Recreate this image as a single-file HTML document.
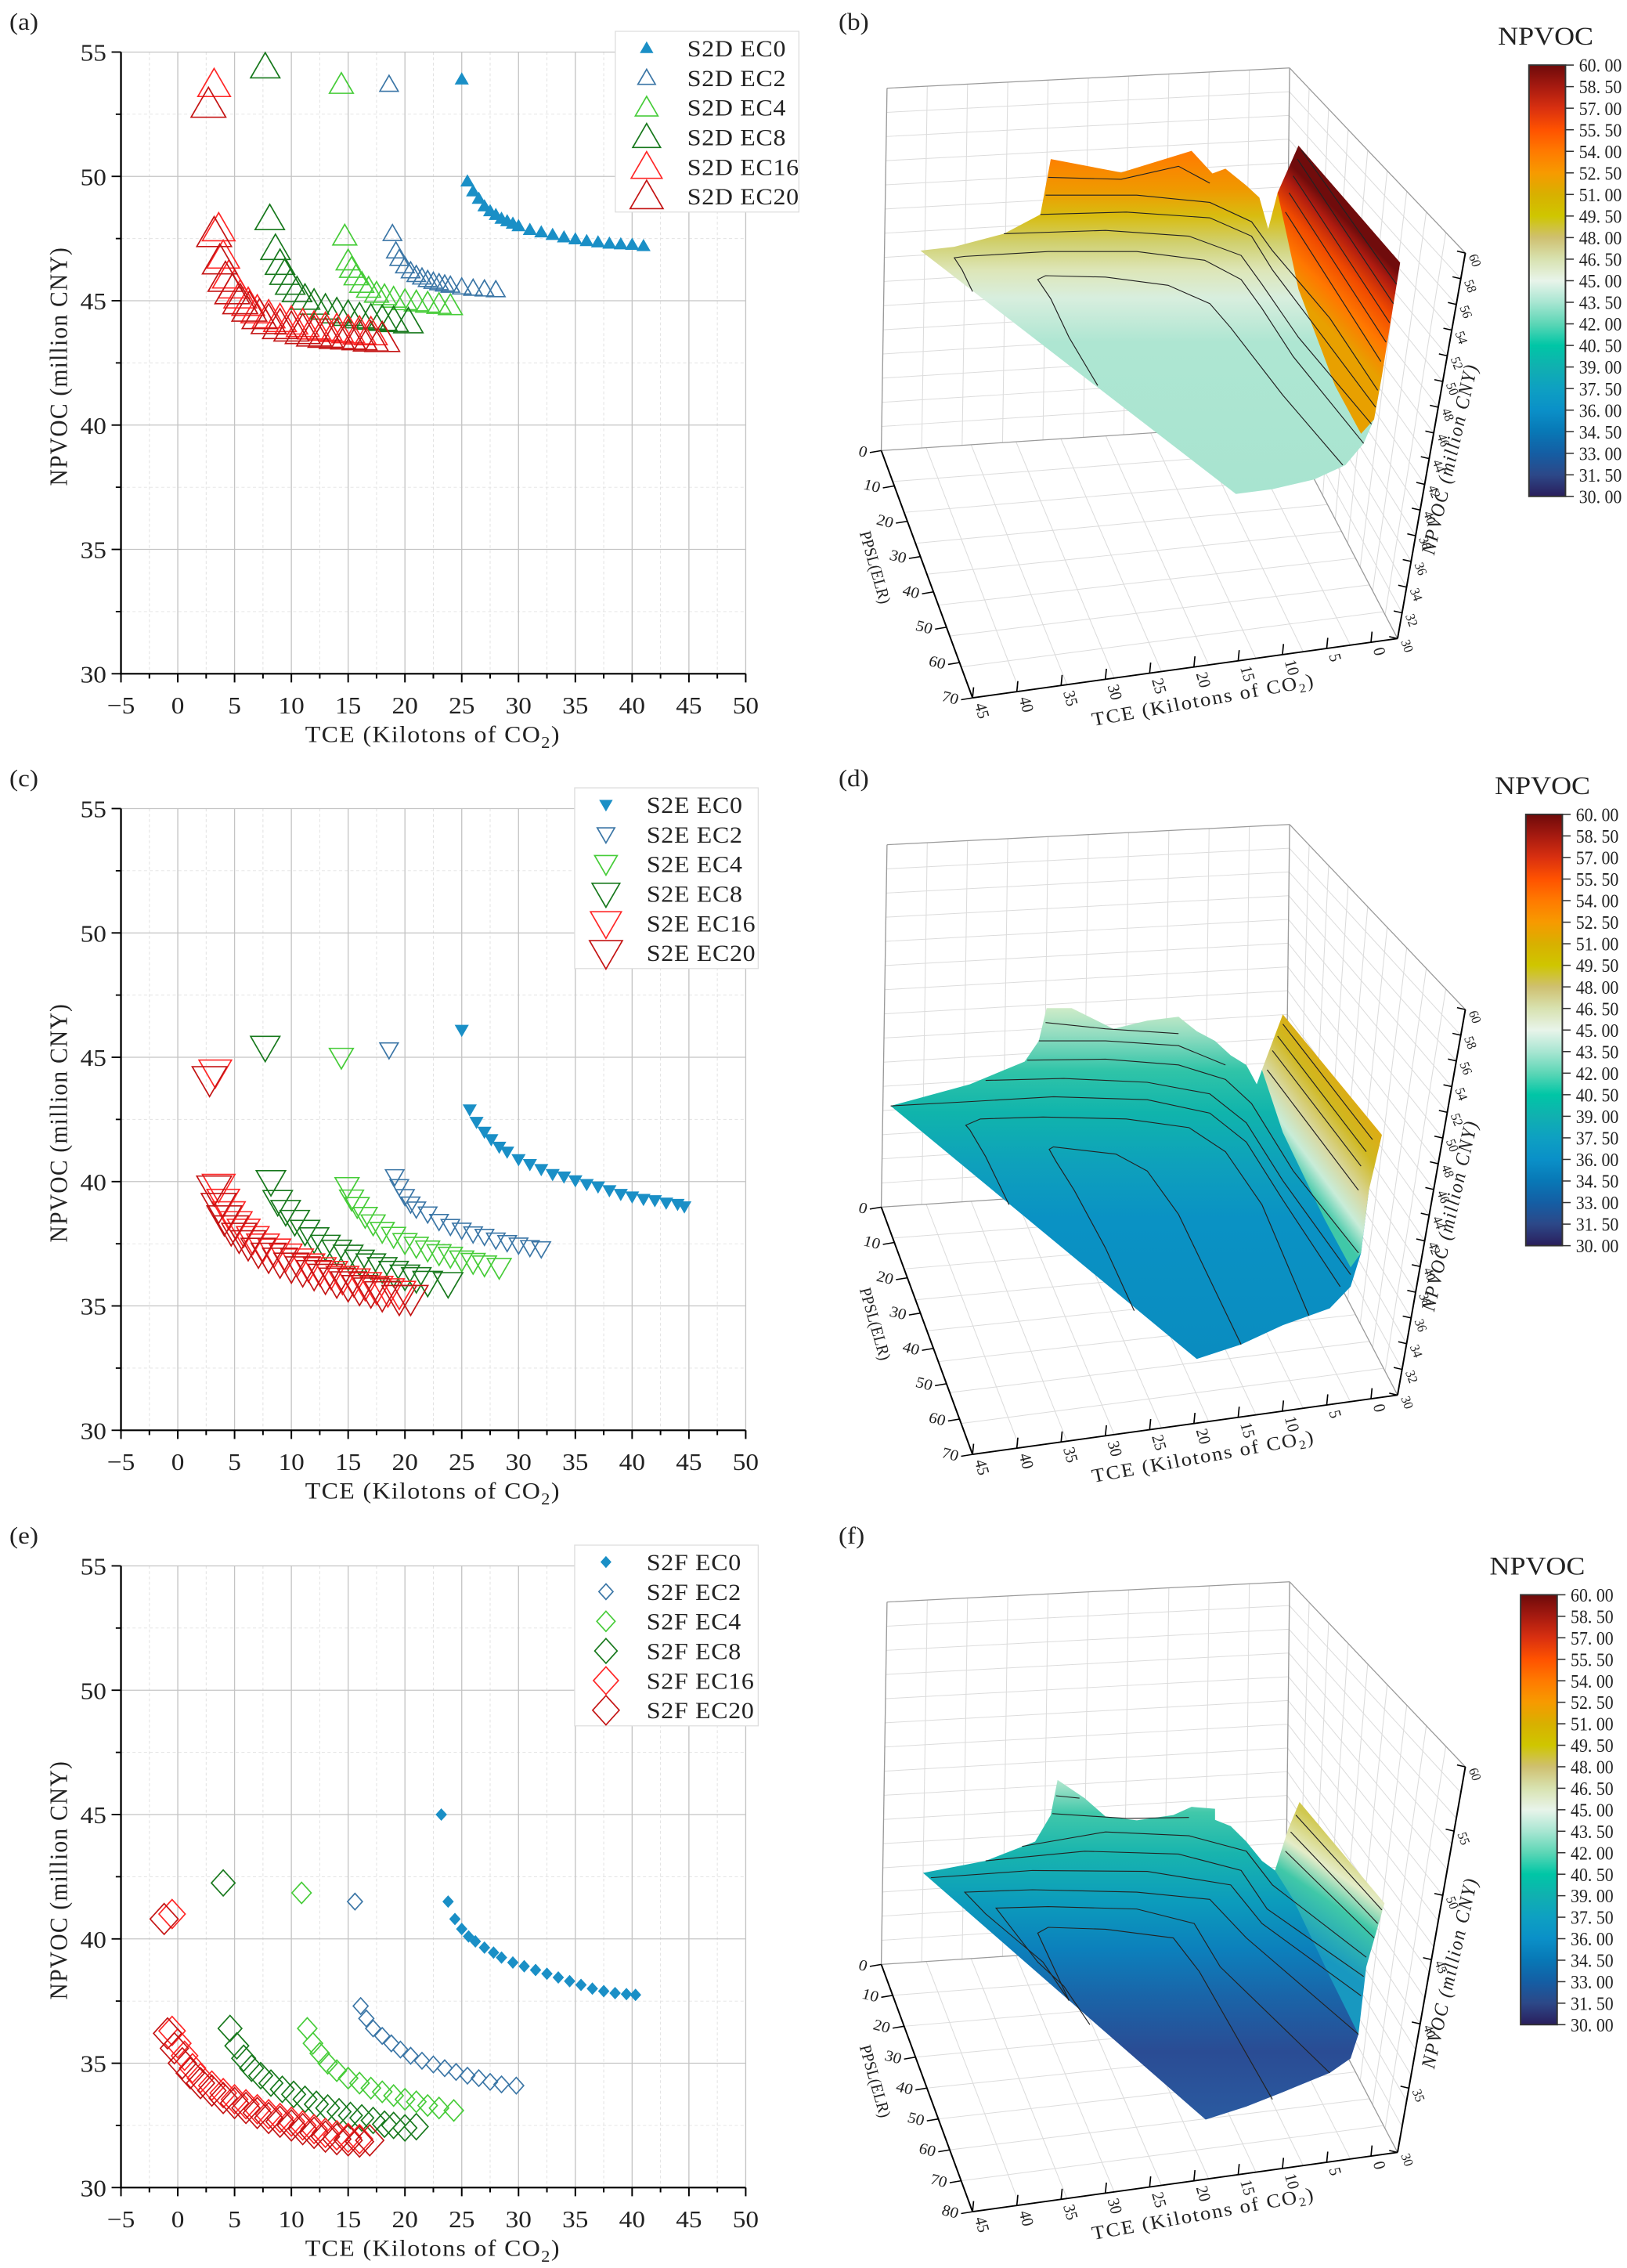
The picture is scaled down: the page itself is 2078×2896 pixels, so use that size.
<!DOCTYPE html>
<html><head><meta charset="utf-8">
<style>
html,body{margin:0;padding:0;background:#fff;}
body{width:2078px;height:2896px;position:relative;overflow:hidden;}
svg.p{position:absolute;width:1039px;height:960px;}
text{font-family:"Liberation Serif","Noto Serif CJK SC",serif;fill:#222;}
</style></head><body>
<svg class="p" id="pa" style="left:0;top:0" viewBox="0 0 1560 1560" preserveAspectRatio="none"></svg>
<svg class="p" id="pb" style="left:1039px;top:0" viewBox="0 0 1560 1560" preserveAspectRatio="none"></svg>
<svg class="p" id="pc" style="left:0;top:966px" viewBox="0 0 1560 1560" preserveAspectRatio="none"></svg>
<svg class="p" id="pd" style="left:1039px;top:966px" viewBox="0 0 1560 1560" preserveAspectRatio="none"></svg>
<svg class="p" id="pe" style="left:0;top:1933px" viewBox="0 0 1560 1560" preserveAspectRatio="none"></svg>
<svg class="p" id="pf" style="left:1039px;top:1933px" viewBox="0 0 1560 1560" preserveAspectRatio="none"></svg>
<script>
// ---------- scatter data ----------
const xTicks=[-5,0,5,10,15,20,25,30,35,40,45,50];
const yTicks=[30,35,40,45,50,55];
const seriesLabels=["EC0","EC2","EC4","EC8","EC16","EC20"];
// (a) S2D
const aEC0x=[25,25.5,26,26.5,27,27.5,28,28.5,29,29.5,30,31,32,33,34,35,36,37,38,39,40,41];
const aEC0y=[53.9,49.8,49.4,49.1,48.8,48.6,48.45,48.3,48.2,48.1,48.0,47.85,47.75,47.65,47.55,47.47,47.4,47.35,47.3,47.27,47.25,47.2];
const aEC2x=[18.6,18.9,19.2,19.5,20,20.5,21,21.5,22,22.5,23,23.5,24,25,26,27,28];
const aEC2y=[53.7,47.7,47.0,46.7,46.4,46.2,46.05,45.95,45.85,45.78,45.72,45.67,45.62,45.55,45.5,45.47,45.44];
const aEC4x=[14.4,14.7,15,15.3,15.7,16.2,16.8,17.5,18.2,19,20,21,22,23,24];
const aEC4y=[53.7,47.6,46.6,46.3,46.0,45.7,45.5,45.3,45.2,45.1,45.0,44.95,44.9,44.85,44.8];
const aEC8x=[7.7,8.1,8.6,9,9.4,9.9,10.5,11.2,12,13,14,15,16,17,18,19,20.3];
const aEC8y=[54.4,48.3,47.1,46.5,46.1,45.7,45.4,45.1,44.9,44.7,44.55,44.45,44.35,44.3,44.25,44.2,44.15];
const aEC16x=[3.2,3.6,4.0,4.5,5.0,5.5,6.2,7,8,9,10,11,12,13,14,15,16,17];
const aEC16y=[53.7,47.9,46.8,46.0,45.6,45.2,44.9,44.6,44.4,44.25,44.15,44.05,43.95,43.9,43.85,43.8,43.75,43.72];
const aEC20x=[2.7,3.2,3.7,4.2,4.8,5.5,6.3,7.2,8,9,10,11,12,13,14,15,16,17,18];
const aEC20y=[52.9,47.7,46.6,45.9,45.4,45.0,44.7,44.4,44.2,44.0,43.9,43.8,43.7,43.65,43.6,43.58,43.55,43.5,43.48];
// (c) S2E
const cEC0x=[25,25.7,26.3,27,27.6,28.3,29,30,31,32,33,34,35,36,37,38,39,40,41,42,43,44,44.6];
const cEC0y=[46.1,42.9,42.4,42.0,41.7,41.4,41.2,40.9,40.7,40.5,40.3,40.2,40.05,39.9,39.8,39.65,39.5,39.4,39.3,39.25,39.15,39.1,39.0];
const cEC2x=[18.6,19.1,19.5,20,20.5,21,22,23,24,25,26,27,28,29,30,31,32];
const cEC2y=[45.3,40.2,39.8,39.4,39.1,38.9,38.7,38.4,38.2,38.05,37.9,37.8,37.65,37.55,37.45,37.35,37.3];
const cEC4x=[14.4,14.9,15.3,15.8,16.5,17.2,18,19,20,21,22,23,24,25,26,27,28.3];
const cEC4y=[45.0,39.8,39.3,39.0,38.6,38.3,38.0,37.8,37.55,37.4,37.25,37.1,37.0,36.85,36.75,36.65,36.55];
const cEC8x=[7.7,8.2,8.8,9.5,10.3,11.2,12,13,14,15,16,17,18,19,20,21,22,23.8];
const cEC8y=[45.4,40.0,39.2,38.8,38.4,38.0,37.7,37.4,37.2,37.0,36.8,36.65,36.5,36.35,36.2,36.1,35.95,35.9];
const cEC16x=[3.3,3.6,4.0,4.5,5.1,5.8,6.6,7.5,8.5,9.5,10.5,11.5,12.5,13.5,14.5,15.5,16.5,17.5,18.5,19.5];
const cEC16y=[44.4,39.8,39.2,38.7,38.3,38.0,37.7,37.4,37.2,37.0,36.8,36.6,36.45,36.3,36.1,36.0,35.85,35.7,35.6,35.5];
const cEC20x=[2.8,3.2,3.6,4.1,4.7,5.4,6.2,7.1,8,9,10,11,12,13,14,15,16,17,18,19.5,20.5];
const cEC20y=[44.1,39.7,39.0,38.5,38.1,37.8,37.5,37.2,37.0,36.8,36.6,36.45,36.3,36.15,36.0,35.85,35.7,35.6,35.45,35.3,35.3];
// (e) S2F
const eEC0x=[23.2,23.8,24.4,25,25.6,26.2,27,27.8,28.5,29.5,30.5,31.5,32.5,33.5,34.5,35.5,36.5,37.5,38.5,39.5,40.3];
const eEC0y=[45.0,41.5,40.8,40.4,40.1,39.9,39.65,39.45,39.25,39.05,38.9,38.75,38.6,38.45,38.3,38.15,38.0,37.9,37.82,37.78,37.75];
const eEC2x=[15.6,16.1,16.6,17.2,18,18.8,19.6,20.5,21.5,22.5,23.5,24.5,25.5,26.5,27.5,28.5,29.8];
const eEC2y=[41.5,37.3,36.8,36.4,36.1,35.8,35.55,35.3,35.1,34.95,34.8,34.65,34.5,34.4,34.25,34.15,34.1];
const eEC4x=[10.9,11.4,11.9,12.5,13.2,14,15,16,17,18,19,20,21,22,23,24.3];
const eEC4y=[41.85,36.4,35.8,35.4,35.0,34.7,34.4,34.2,34.0,33.85,33.7,33.55,33.45,33.3,33.2,33.1];
const eEC8x=[4.0,4.6,5.2,5.8,6.5,7.3,8.2,9.2,10.2,11.2,12.2,13.2,14.2,15.2,16.2,17.2,18.2,19,20,21];
const eEC8y=[42.25,36.4,35.7,35.2,34.8,34.5,34.2,33.95,33.75,33.55,33.35,33.2,33.05,32.9,32.8,32.7,32.55,32.5,32.4,32.45];
const eEC16x=[-0.5,-0.5,0,0.6,1.3,2,3,4,5,6,7,8,9,10,11,12,13,14,15,16];
const eEC16y=[41.0,36.3,35.8,35.3,34.8,34.4,34.1,33.8,33.55,33.35,33.15,32.95,32.8,32.65,32.5,32.35,32.2,32.1,32.0,31.95];
const eEC20x=[-1.2,-0.9,-0.3,0.4,1.1,2,3,4,5,6,7,8,9,10,11,12,13,14,15,16,16.9];
const eEC20y=[40.8,36.2,35.6,35.0,34.6,34.2,33.9,33.6,33.4,33.2,33.0,32.8,32.65,32.5,32.35,32.2,32.05,31.95,31.9,31.85,31.9];

// ---------- colorbar ----------
const cbValues=[60,58.5,57,55.5,54,52.5,51,49.5,48,46.5,45,43.5,42,40.5,39,37.5,36,34.5,33,31.5,30];
const cbColors=["#6e0a0a","#a61a10","#d93010","#ff5200","#ff7a00","#f79a00","#d8b000","#cfc600","#cfc070","#d8e2b0","#e8f4ea","#a8e6d2","#5cd6b6","#00c6a6","#10b0b0","#0ea0c2","#0a90c8","#0878b6","#145ea4","#2c4888","#2a1e5c"];

const NS="http://www.w3.org/2000/svg";
function mk(parent,tag,attrs,name,inter){
  const el=document.createElementNS(NS,tag);
  for(const k in attrs) el.setAttribute(k,attrs[k]);
  if(name){
    
    
  }
  parent.appendChild(el);return el;
}
function txt(parent,x,y,s,size,anchor,name,extra){
  const t=mk(parent,'text',Object.assign({x:x,y:y,'font-size':size,'text-anchor':anchor||'start'},extra||{}));
  
  
  t.textContent=s;return t;
}
const colors=["#1a8fc6","#3b76a6","#46cc38","#17781c","#ff2626","#c41414"];
const sizes=[22,34,44,54,60,64];
const X0=232,X1=1430,Y0=1398,Y1=108;
function sx(v){return X0+(v+5)/55*(X1-X0);}
function sy(v){return Y0-(v-30)/25*(Y0-Y1);}
function marker(g,shape,cx,cy,s,col,filled){
  let pts;
  if(shape==='up') pts=[[cx,cy-s*0.55],[cx-s*0.52,cy+s*0.42],[cx+s*0.52,cy+s*0.42]];
  else if(shape==='down') pts=[[cx,cy+s*0.55],[cx-s*0.52,cy-s*0.42],[cx+s*0.52,cy-s*0.42]];
  else pts=[[cx,cy-s*0.5],[cx+s*0.42,cy],[cx,cy+s*0.5],[cx-s*0.42,cy]];
  const p=mk(g,'polygon',{points:pts.map(q=>q.join(',')).join(' '),fill:filled?col:'none',stroke:col,'stroke-width':2.6});
  
  
}
function scatter(id,letter,prefix,shape,xs,ys,legX){
  const s=document.getElementById(id);
  txt(s,18,62,'('+letter+')',50,'start','panel-label');
  const grid=mk(s,'g',{},'grid',false);
  for(let v=-2.5;v<50;v+=5) mk(grid,'line',{x1:sx(v),y1:Y1,x2:sx(v),y2:Y0,stroke:'#e2e2e2','stroke-width':1.5,'stroke-dasharray':'6,5'});
  for(let v=32.5;v<55;v+=5) mk(grid,'line',{x1:X0,y1:sy(v),x2:X1,y2:sy(v),stroke:'#e2e2e2','stroke-width':1.5,'stroke-dasharray':'6,5'});
  xTicks.forEach(v=>{ if(v>-5) mk(grid,'line',{x1:sx(v),y1:Y1,x2:sx(v),y2:Y0,stroke:'#c4c4c4','stroke-width':2});});
  yTicks.forEach(v=>{ if(v>30) mk(grid,'line',{x1:X0,y1:sy(v),x2:X1,y2:sy(v),stroke:'#c4c4c4','stroke-width':2});});
  const ax=mk(s,'g',{},'axes',false);
  mk(ax,'line',{x1:X0,y1:Y1,x2:X0,y2:Y0+2,stroke:'#000','stroke-width':3.5},'y-axis',false);
  mk(ax,'line',{x1:X0-2,y1:Y0,x2:X1,y2:Y0,stroke:'#000','stroke-width':3.5},'x-axis',false);
  xTicks.forEach(v=>{mk(ax,'line',{x1:sx(v),y1:Y0,x2:sx(v),y2:Y0+18,stroke:'#000','stroke-width':3});
    txt(ax,sx(v),Y0+82,(v<0?'\u2212':'')+Math.abs(v),50,'middle','x-tick-label');});
  for(let v=-2.5;v<50;v+=5) mk(ax,'line',{x1:sx(v),y1:Y0,x2:sx(v),y2:Y0+10,stroke:'#000','stroke-width':3});
  yTicks.forEach(v=>{mk(ax,'line',{x1:X0-18,y1:sy(v),x2:X0,y2:sy(v),stroke:'#000','stroke-width':3});
    txt(ax,X0-28,sy(v)+18,String(v),50,'end','y-tick-label');});
  for(let v=32.5;v<55;v+=5) mk(ax,'line',{x1:X0-10,y1:sy(v),x2:X0,y2:sy(v),stroke:'#000','stroke-width':3});
  const xt=txt(ax,830,1540,'TCE (Kilotons of CO',48,'middle','x-axis-title',{'letter-spacing':'2'});
  const sub=mk(xt,'tspan',{'font-size':34,dy:12});sub.textContent='2';
  const cl=mk(xt,'tspan',{dy:-12});cl.textContent=')';
  txt(ax,0,0,'NPVOC (million CNY)',48,'middle','y-axis-title',{transform:'translate(128,760) rotate(-90)','letter-spacing':'2'});
  xs.forEach((arr,i)=>{
    const g=mk(s,'g',{},'series-'+seriesLabels[i].toLowerCase(),false);
    const yy=ys[i];
    for(let j=arr.length-1;j>=0;j--) marker(g,shape,sx(arr[j]),sy(yy[j]),sizes[i],colors[i],i===0);
  });
  const lg=mk(s,'g',{},'legend',false);
  mk(lg,'rect',{x:legX,y:65,width:352,height:375,fill:'#fff',stroke:'#ddd','stroke-width':2});
  seriesLabels.forEach((l,i)=>{
    const yy=100+i*61.5;
    marker(lg,shape,legX+60,yy,sizes[i]*0.95,colors[i],i===0);
    txt(lg,legX+138,yy+17,prefix+' '+l,48,'start','legend-entry',{'letter-spacing':'1'});
  });
}
scatter('pa','a','S2D','up',[aEC0x,aEC2x,aEC4x,aEC8x,aEC16x,aEC20x],[aEC0y,aEC2y,aEC4y,aEC8y,aEC16y,aEC20y],1180);
scatter('pc','c','S2E','down',[cEC0x,cEC2x,cEC4x,cEC8x,cEC16x,cEC20x],[cEC0y,cEC2y,cEC4y,cEC8y,cEC16y,cEC20y],1102);
scatter('pe','e','S2F','diamond',[eEC0x,eEC2x,eEC4x,eEC8x,eEC16x,eEC20x],[eEC0y,eEC2y,eEC4y,eEC8y,eEC16y,eEC20y],1102);

// ---------- 3D surfaces ----------
const tceLabels=["45","40","35","30","25","20","15","10","5","0"];
const ppslB=["0","10","20","30","40","50","60","70"];
const ppslF=["0","10","20","30","40","50","60","70","80"];
const zLabelsBD=["60","58","56","54","52","50","48","46","44","42","40","38","36","34","32","30"];
const zLabelsF=["60","55","50","45","40","35","30"];
function lerp(a,b,t){return [a[0]+(b[0]-a[0])*t,a[1]+(b[1]-a[1])*t];}
function quadGrid(g,TL,TR,BR,BL,nu,nv){
  for(let i=1;i<nu;i++){const t=i/nu;const a=lerp(TL,TR,t),b=lerp(BL,BR,t);
    mk(g,'line',{x1:a[0],y1:a[1],x2:b[0],y2:b[1],stroke:'#dcdcdc','stroke-width':1.6});}
  for(let i=1;i<nv;i++){const t=i/nv;const a=lerp(TL,BL,t),b=lerp(TR,BR,t);
    mk(g,'line',{x1:a[0],y1:a[1],x2:b[0],y2:b[1],stroke:'#dcdcdc','stroke-width':1.6});}
}
function surface(id,letter,cfg){
  const s=document.getElementById(id);
  txt(s,48,62,'('+letter+')',50,'start','panel-label');
  const defs=mk(s,'defs',{});
  const BTL=[141,183],BTR=[913,141],BBR=[905,880],BBL=[130,935],RTR=[1250,525],RBR=[1120,1325],FBL=[305,1448];
  const box=mk(s,'g',{},'3d-box',false);
  quadGrid(box,BTL,BTR,BBR,BBL,10,15);
  quadGrid(box,BTR,RTR,RBR,BBR,9,15);
  quadGrid(box,BBL,BBR,RBR,FBL,9,8);
  [[BTL,BTR],[BTL,BBL],[BTR,RTR],[BTR,BBR],[BBL,BBR],[BBR,RBR]].forEach(p=>mk(box,'line',{x1:p[0][0],y1:p[0][1],x2:p[1][0],y2:p[1][1],stroke:'#9a9a9a','stroke-width':2}));
  // surface
  const bg=mk(defs,'linearGradient',{id:id+'g',gradientUnits:'userSpaceOnUse',x1:0,y1:cfg.gy[0],x2:0,y2:cfg.gy[1]});
  cfg.stops.forEach(st=>mk(bg,'stop',{offset:st[0],'stop-color':st[1]}));
  const sg=mk(s,'g',{},'surface',false);
  mk(sg,'polygon',{points:cfg.poly.map(p=>p.join(',')).join(' '),fill:'url(#'+id+'g)'},'surface-body',false);
  const lg=mk(defs,'linearGradient',{id:id+'r',gradientUnits:'userSpaceOnUse',x1:cfg.strip.g[0],y1:cfg.strip.g[1],x2:cfg.strip.g[2],y2:cfg.strip.g[3]});
  cfg.strip.stops.forEach(st=>mk(lg,'stop',{offset:st[0],'stop-color':st[1]}));
  mk(sg,'polygon',{points:cfg.strip.poly.map(p=>p.join(',')).join(' '),fill:'url(#'+id+'r)'},'surface-right-face',false);
  cfg.contours.forEach(c=>mk(sg,'polyline',{points:c.map(p=>p.join(',')).join(' '),fill:'none',stroke:'#222','stroke-width':1.8},'contour-line',false));
  // axes
  const ax=mk(s,'g',{},'3d-axes',false);
  mk(ax,'line',{x1:BBL[0],y1:BBL[1],x2:FBL[0],y2:FBL[1],stroke:'#000','stroke-width':3},'ppsl-axis',false);
  mk(ax,'line',{x1:FBL[0],y1:FBL[1],x2:RBR[0],y2:RBR[1],stroke:'#000','stroke-width':3},'tce-axis',false);
  mk(ax,'line',{x1:RTR[0],y1:RTR[1],x2:RBR[0],y2:RBR[1],stroke:'#000','stroke-width':3},'npvoc-axis',false);
  const pl=cfg.ppsl;
  pl.forEach((l,i)=>{const p=lerp(BBL,FBL,i/(pl.length-1));
    mk(ax,'line',{x1:p[0],y1:p[1],x2:p[0]-22,y2:p[1]+4,stroke:'#000','stroke-width':2.5});
    txt(ax,0,0,l,32,'end','ppsl-tick-label',{transform:'translate('+(p[0]-30)+','+(p[1]+14)+') rotate(15)'});});
  tceLabels.forEach((l,i)=>{const p=lerp(FBL,RBR,i/9.6);
    mk(ax,'line',{x1:p[0],y1:p[1],x2:p[0]+2,y2:p[1]-22,stroke:'#000','stroke-width':2.5});
    txt(ax,0,0,l,32,'start','tce-tick-label',{transform:'translate('+(p[0]+4)+','+(p[1]+14)+') rotate(75)'});});
  const zl=cfg.z;
  zl.forEach((l,i)=>{const p=lerp(RTR,RBR,i/(zl.length-1));
    mk(ax,'line',{x1:p[0],y1:p[1],x2:p[0]-16,y2:p[1]-4,stroke:'#000','stroke-width':2.5});
    txt(ax,0,0,l,26,'start','z-tick-label',{transform:'translate('+(p[0]+6)+','+(p[1]+6)+') rotate(70)'});});
  txt(ax,0,0,'PPSL(ELR)',32,'middle','ppsl-axis-title',{transform:'translate(108,1180) rotate(75)'});
  const tt=txt(ax,0,0,'TCE (Kilotons of CO',40,'middle','tce-axis-title',{transform:'translate(750,1465) rotate(-11)','letter-spacing':'3'});
  const sb=mk(tt,'tspan',{'font-size':26,dy:8});sb.textContent='2';
  const c2=mk(tt,'tspan',{dy:-8});c2.textContent=')';
  txt(ax,0,0,'NPVOC (million CNY)',38,'middle','npvoc-axis-title',{transform:'translate(1232,955) rotate(-78)','font-style':'italic','letter-spacing':'3'});
  // colorbar
  const cb=mk(s,'g',{},'colorbar',false);
  const L=cfg.cb;
  const cg=mk(defs,'linearGradient',{id:id+'cb',x1:0,y1:0,x2:0,y2:1});
  cbColors.forEach((c,i)=>mk(cg,'stop',{offset:i/(cbColors.length-1),'stop-color':c}));
  mk(cb,'rect',{x:L[0],y:L[1],width:70,height:L[2]-L[1],fill:'url(#'+id+'cb)',stroke:'#333','stroke-width':3});
  txt(cb,L[0]+32,L[1]-42,'NPVOC',54,'middle','colorbar-title');
  cbValues.forEach((v,i)=>{const y=L[1]+(L[2]-L[1])*(60-v)/30;
    mk(cb,'line',{x1:L[0]+70,y1:y,x2:L[0]+86,y2:y,stroke:'#333','stroke-width':2.5});
    txt(cb,L[0]+96,y+14,v.toFixed(2).replace('.','. '),40,'start','colorbar-tick-label',{fill:'#555',textLength:82,lengthAdjust:'spacingAndGlyphs'});});
}
surface('pb','b',{
  poly:[[205,520],[270,512],[365,485],[435,445],[455,330],[590,358],[725,313],[765,360],[790,350],[830,385],[855,410],[872,475],[890,400],[905,380],[1090,780],[1075,870],[1055,920],[1020,965],[960,995],[880,1015],[810,1025]],
  gy:[320,1030],
  stops:[[0,'#ff7c00'],[0.1,'#f09800'],[0.18,'#d8bc10'],[0.26,'#d0d070'],[0.34,'#dde6b8'],[0.42,'#d8eede'],[0.55,'#aee6d2'],[1,'#a8e4d0']],
  strip:{poly:[[890,400],[930,302],[1125,545],[1090,780],[1075,870],[1050,900],[1000,800],[930,600]],g:[950,640,1080,520],
    stops:[[0,'#e8a000'],[0.3,'#ff7800'],[0.6,'#f04a00'],[0.85,'#b01c10'],[1,'#700c0c']]},
  contours:[
   [[545,800],[490,700],[455,620],[430,580],[445,572],[560,575],[680,592],[760,630],[800,680],[900,820],[1015,965]],
   [[305,605],[285,560],[270,535],[290,532],[450,522],[620,522],[750,540],[820,580],[860,640],[920,740],[1055,920]],
   [[365,485],[560,478],[720,490],[820,530],[860,590],[930,700],[1070,880]],
   [[435,445],[600,440],[760,452],[840,490],[880,560],[950,660],[1078,845]],
   [[445,405],[620,405],[760,420],[840,460],[880,520],[990,660],[1082,810]],
   [[450,368],[590,372],[700,345],[760,380]],
   [[905,440],[1088,750]],[[912,400],[1098,710]],[[920,365],[1105,670]],[[928,330],[1112,630]],[[936,312],[1118,590]]],
  cb:[1372,135,1030],ppsl:ppslB,z:zLabelsBD});
surface('pd','d',{
  poly:[[148,725],[300,680],[405,633],[432,590],[447,522],[495,522],[575,565],[640,548],[700,540],[735,570],[770,590],[800,620],[830,640],[850,680],[860,650],[1065,900],[1050,1030],[1030,1100],[990,1145],[900,1180],[820,1220],[735,1250]],
  gy:[520,1250],
  stops:[[0,'#d0ecc8'],[0.08,'#90dcc0'],[0.18,'#30c4a8'],[0.3,'#10b4ac'],[0.45,'#0ea0bc'],[0.6,'#0a92c4'],[1,'#0a8cc0']],
  strip:{poly:[[860,650],[900,535],[1090,785],[1065,900],[1050,1030],[1030,1060],[980,960],[900,780]],g:[1060,720,900,830],
    stops:[[0,'#e0a810'],[0.3,'#d0b820'],[0.6,'#d8d8a0'],[0.8,'#c8ecd8'],[1,'#40c8a8']]},
  contours:[
   [[615,1150],[560,1020],[500,900],[465,840],[452,815],[460,810],[580,825],[640,860],[700,950],[820,1220]],
   [[375,930],[330,830],[300,775],[292,765],[320,752],[440,748],[600,752],[720,770],[790,820],[860,930],[950,1160]],
   [[148,725],[300,716],[460,706],[640,712],[760,740],[830,800],[900,920],[1010,1100]],
   [[330,672],[480,668],[640,676],[760,700],[830,760],[900,880],[1030,1075]],
   [[410,630],[560,628],[700,640],[790,670],[840,720],[920,860],[1045,1030]],
   [[432,590],[560,590],[700,600],[790,640]],
   [[445,552],[560,565],[700,575]],
   [[880,610],[1050,850]],[[890,580],[1060,820]],[[900,555],[1072,795]],[[870,650],[1045,900]]],
  cb:[1366,120,1015],ppsl:ppslB,z:zLabelsBD});
surface('pf','f',{
  poly:[[210,745],[330,720],[425,680],[455,625],[468,552],[520,590],[560,628],[620,636],[690,625],[725,608],[770,612],[770,635],[800,648],[830,680],[860,720],[885,740],[900,700],[1045,1080],[1030,1130],[990,1160],[900,1200],[830,1230],[752,1257]],
  gy:[550,1257],
  stops:[[0,'#b8e8d0'],[0.1,'#40c8aa'],[0.22,'#18b4ae'],[0.36,'#0c9cbc'],[0.5,'#0c80bc'],[0.64,'#1a64a8'],[0.8,'#2a4c94'],[1,'#2a5aa0']],
  strip:{poly:[[885,740],[910,655],[932,598],[1095,808],[1060,940],[1045,1080],[990,960],[920,800]],g:[1080,720,950,900],
    stops:[[0,'#d0c850'],[0.3,'#e4ecc8'],[0.55,'#40c8a8'],[1,'#1898c0']]},
  contours:[
   [[490,1010],[430,870],[450,858],[560,862],[690,880],[740,950],[880,1215]],
   [[530,1060],[480,980],[430,930],[350,818],[450,815],[620,820],[730,850],[780,940],[990,1160]],
   [[490,1010],[440,930],[330,830],[290,785],[420,780],[620,785],[760,800],[830,880],[1045,1080]],
   [[225,755],[420,740],[640,742],[800,770],[860,850],[1050,1000]],
   [[330,720],[520,700],[700,706],[820,740],[870,820],[1055,960]],
   [[400,690],[560,660],[720,668],[830,700],[880,770],[1060,920]],
   [[458,622],[600,632],[720,630]],[[465,585],[510,590]],
   [[905,700],[1075,880]],[[915,660],[1082,850]],[[925,625],[1090,822]]],
  cb:[1356,168,1060],ppsl:ppslF,z:zLabelsF});
</script>
</body></html>
